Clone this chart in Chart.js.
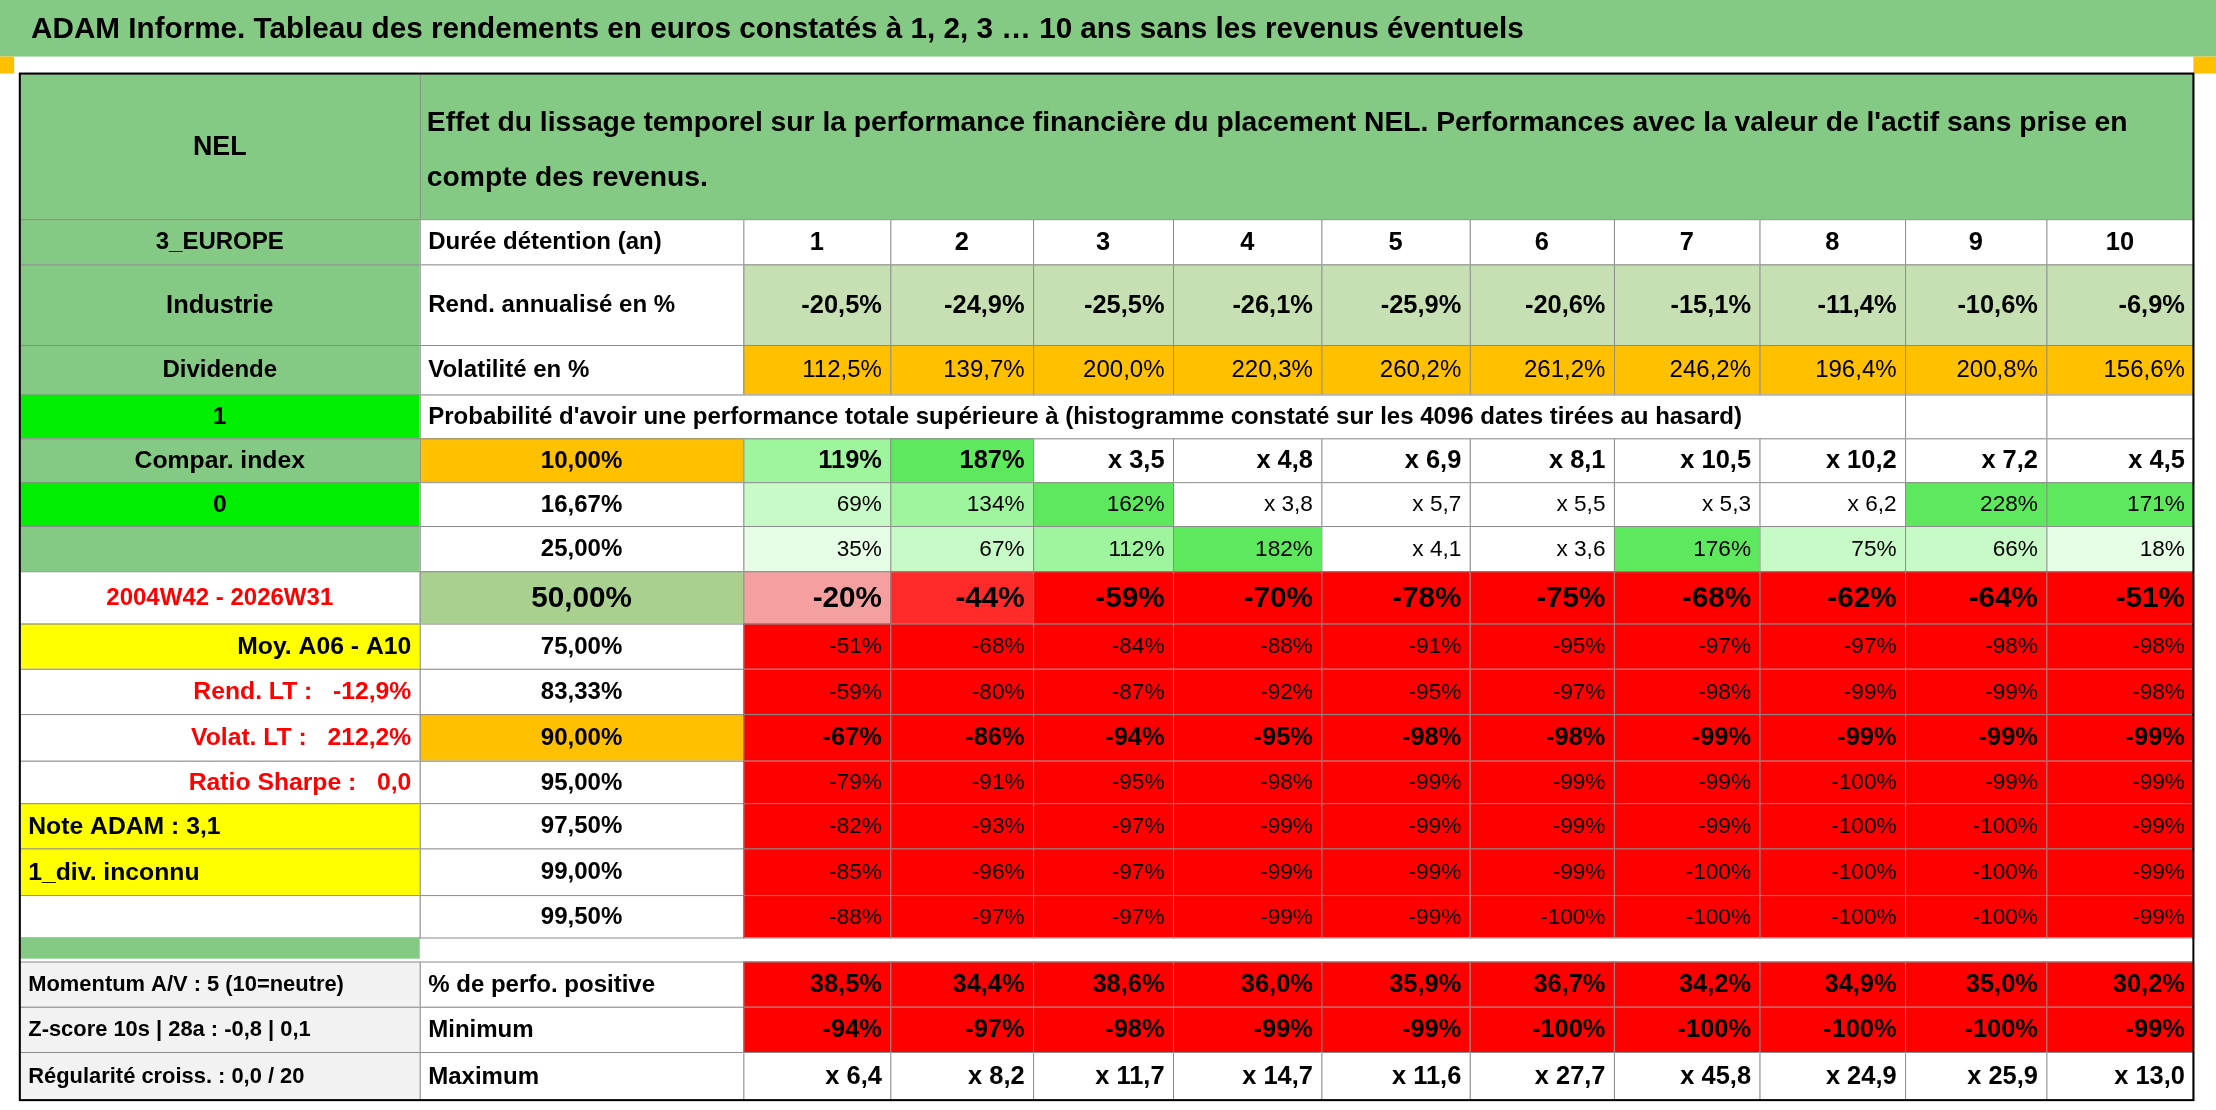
<!DOCTYPE html>
<html><head><meta charset="utf-8">
<script src="https://cdn.jsdelivr.net/npm/chart.js@4"></script>
<style>html,body{margin:0;padding:0;background:#fff}#wrap{width:2216px;height:1110px}</style>
</head><body><div id="wrap"><canvas id="tbl"></canvas></div>
<script>
// table content
var title = "ADAM Informe. Tableau des rendements en euros constatés à 1, 2, 3 … 10 ans sans les revenus éventuels";
var headText = ["Effet du lissage temporel sur la performance financière du placement NEL. Performances avec la valeur de l'actif sans prise en", "compte des revenus."];
var durees = ["1","2","3","4","5","6","7","8","9","10"];
var rend = ["-20,5%","-24,9%","-25,5%","-26,1%","-25,9%","-20,6%","-15,1%","-11,4%","-10,6%","-6,9%"];
var volat = ["112,5%","139,7%","200,0%","220,3%","260,2%","261,2%","246,2%","196,4%","200,8%","156,6%"];
var quantiles = ["10,00%","16,67%","25,00%","50,00%","75,00%","83,33%","90,00%","95,00%","97,50%","99,00%","99,50%"];
var perf = [
  ["119%","187%","x 3,5","x 4,8","x 6,9","x 8,1","x 10,5","x 10,2","x 7,2","x 4,5"],
  ["69%","134%","162%","x 3,8","x 5,7","x 5,5","x 5,3","x 6,2","228%","171%"],
  ["35%","67%","112%","182%","x 4,1","x 3,6","176%","75%","66%","18%"],
  ["-20%","-44%","-59%","-70%","-78%","-75%","-68%","-62%","-64%","-51%"],
  ["-51%","-68%","-84%","-88%","-91%","-95%","-97%","-97%","-98%","-98%"],
  ["-59%","-80%","-87%","-92%","-95%","-97%","-98%","-99%","-99%","-98%"],
  ["-67%","-86%","-94%","-95%","-98%","-98%","-99%","-99%","-99%","-99%"],
  ["-79%","-91%","-95%","-98%","-99%","-99%","-99%","-100%","-99%","-99%"],
  ["-82%","-93%","-97%","-99%","-99%","-99%","-99%","-100%","-100%","-99%"],
  ["-85%","-96%","-97%","-99%","-99%","-99%","-100%","-100%","-100%","-99%"],
  ["-88%","-97%","-97%","-99%","-99%","-100%","-100%","-100%","-100%","-99%"]
];
var positif = ["38,5%","34,4%","38,6%","36,0%","35,9%","36,7%","34,2%","34,9%","35,0%","30,2%"];
var minimum = ["-94%","-97%","-98%","-99%","-99%","-100%","-100%","-100%","-100%","-99%"];
var maximum = ["x 6,4","x 8,2","x 11,7","x 14,7","x 11,6","x 27,7","x 45,8","x 24,9","x 25,9","x 13,0"];
var sideLabels = ["Compar. index","0","","2004W42 - 2026W31","Moy. A06 - A10","Rend. LT :   -12,9%","Volat. LT :   212,2%","Ratio Sharpe :   0,0","Note ADAM : 3,1","1_div. inconnu",""];
var bottomLabels = ["Momentum A/V : 5 (10=neutre)","Z-score 10s | 28a : -0,8 | 0,1","Régularité croiss. : 0,0 / 20"];
var bottomRowNames = ["% de perfo. positive","Minimum","Maximum"];

var colX = [14,297,526,630,731,830,935,1040,1142,1245,1348,1448,1552];
var qRowY = [310,341,372,404,441,473,505,538,568,600,633,663];
var GREEN = "#84c984", LGREEN = "#c6e0b4", ORANGE = "#ffc000", RED = "#ff0000", BGREEN = "#00ee00", YEL = "#ffff00";

function posColor(s){
  if (s[0] === "x") return "#ffffff";
  var v = parseFloat(s);
  if (v < 0) return RED;
  if (v >= 150) return "#5ee85e";
  if (v >= 100) return "#9ef59e";
  if (v >= 50) return "#c8fac8";
  return "#e6fde6";
}

var tablePlugin = {
  id: "tablePlugin",
  afterDraw: function(chart){
    var c = chart.ctx, xs = chart.scales.x, ys = chart.scales.y;
    var k = chart.width / 1568;
    function X(v){ return xs.getPixelForValue(v); }
    function Y(v){ return ys.getPixelForValue(v); }
    function cell(x0,x1,y0,y1,fill,txt,opt){
      opt = opt || {};
      var px = X(x0), py = Y(y0), w = X(x1)-px, h = Y(y1)-py;
      if (fill){ c.fillStyle = fill; c.fillRect(px,py,w,h); }
      if (opt.border !== false){ c.strokeStyle = "#8c8c8c"; c.lineWidth = 1; c.strokeRect(px+0.5,py+0.5,w,h); }
      if (txt){
        var size = (opt.size || 17) * k;
        c.font = (opt.bold === false ? "" : "bold ") + size + "px 'Liberation Sans Narrow','Liberation Sans',sans-serif";
        c.fillStyle = opt.color || "#000";
        c.textBaseline = "middle";
        var al = opt.align || "center";
        c.textAlign = al;
        var tx = al === "left" ? px + 6*k : (al === "right" ? px + w - 6*k : px + w/2);
        c.fillText(txt, tx, py + h/2 + 1);
      }
    }
    c.save();
    // title bar
    cell(0,1568,0,40,GREEN,null,{border:false});
    c.font = "bold " + (21*k) + "px 'Liberation Sans Narrow','Liberation Sans',sans-serif";
    c.fillStyle = "#000"; c.textAlign = "left"; c.textBaseline = "middle";
    c.fillText(title, X(22), Y(21));
    cell(0,10,40,52,ORANGE,null,{border:false});
    cell(1552,1568,40,52,ORANGE,null,{border:false});
    // header
    cell(colX[0],colX[1],52,155,GREEN,"NEL",{size:19});
    cell(colX[1],colX[12],52,155,GREEN,null);
    c.font = "bold " + (20*k) + "px 'Liberation Sans Narrow','Liberation Sans',sans-serif";
    c.fillStyle = "#000"; c.textAlign = "left";
    c.fillText(headText[0], X(302), Y(87));
    c.fillText(headText[1], X(302), Y(126));
    // duration row
    cell(colX[0],colX[1],155,187,GREEN,"3_EUROPE");
    cell(colX[1],colX[2],155,187,"#fff","Durée détention (an)",{align:"left"});
    durees.forEach(function(d,i){ cell(colX[i+2],colX[i+3],155,187,"#fff",d,{size:18}); });
    cell(colX[0],colX[1],187,244,GREEN,"Industrie",{size:18});
    cell(colX[1],colX[2],187,244,"#fff","Rend. annualisé en %",{align:"left"});
    rend.forEach(function(d,i){ cell(colX[i+2],colX[i+3],187,244,LGREEN,d,{align:"right",size:18}); });
    cell(colX[0],colX[1],244,279,GREEN,"Dividende");
    cell(colX[1],colX[2],244,279,"#fff","Volatilité en %",{align:"left"});
    volat.forEach(function(d,i){ cell(colX[i+2],colX[i+3],244,279,ORANGE,d,{align:"right",bold:false}); });
    cell(colX[0],colX[1],279,310,BGREEN,"1");
    cell(colX[1],colX[10],279,310,"#fff","Probabilité d'avoir une performance totale supérieure à (histogramme constaté sur les 4096 dates tirées au hasard)",{align:"left"});
    cell(colX[10],colX[11],279,310,"#fff",null);
    cell(colX[11],colX[12],279,310,"#fff",null);
    // quantile rows
    var sideFill = [GREEN,BGREEN,GREEN,"#fff",YEL,"#fff","#fff","#fff",YEL,YEL,"#fff"];
    var sideColor = ["#000","#000","#000",RED,"#000",RED,RED,RED,"#000","#000","#000"];
    var sideAlign = ["center","center","center","center","right","right","right","right","left","left","center"];
    var qFill = [ORANGE,"#fff","#fff","#a9d08e","#fff","#fff",ORANGE,"#fff","#fff","#fff","#fff"];
    quantiles.forEach(function(q,r){
      var y0 = qRowY[r], y1 = qRowY[r+1];
      cell(colX[0],colX[1],y0,y1,sideFill[r],sideLabels[r],{color:sideColor[r],align:sideAlign[r],size:r===3?17:17.5});
      cell(colX[1],colX[2],y0,y1,qFill[r],q,{size:r===3?21:17,bold:(r===0||r===3||r===6)||r>=1});
      perf[r].forEach(function(s,i){
        var fill = posColor(s), col = "#000";
        if (r === 3 && i === 0) fill = "#f4a0a0";
        if (r === 3 && i === 1) fill = "#ff2a2a";
        var big = r === 3, bold = (r===0||r===3||r===6);
        cell(colX[i+2],colX[i+3],y0,y1,fill,s,{align:"right",size:big?21:(bold?18:16),bold:bold,color:col});
      });
    });
    // spacer
    cell(colX[0],colX[1],663,678,GREEN,null,{border:false});
    // bottom rows
    var bY = [680,712,744,778];
    var bData = [positif, minimum, maximum];
    bData.forEach(function(arr,r){
      cell(colX[0],colX[1],bY[r],bY[r+1],"#f2f2f2",bottomLabels[r],{align:"left",size:15.5});
      cell(colX[1],colX[2],bY[r],bY[r+1],"#fff",bottomRowNames[r],{align:"left"});
      arr.forEach(function(s,i){
        cell(colX[i+2],colX[i+3],bY[r],bY[r+1],r===2?"#fff":RED,s,{align:"right",size:18});
      });
    });
    c.strokeStyle = "#000"; c.lineWidth = 2;
    c.strokeRect(X(colX[0]),Y(52),X(colX[12])-X(colX[0]),Y(778)-Y(52));
    c.restore();
  }
};

new Chart(document.getElementById("tbl"), {
  type: "scatter",
  data: { datasets: [{ data: [] }] },
  options: {
    responsive: true, maintainAspectRatio: false, animation: false,
    layout: { padding: 0 },
    plugins: { legend: { display: false }, tooltip: { enabled: false } },
    scales: {
      x: { type: "linear", min: 0, max: 1568, display: false },
      y: { type: "linear", min: 0, max: 785, reverse: true, display: false }
    }
  },
  plugins: [tablePlugin]
});
</script>
</body></html>
